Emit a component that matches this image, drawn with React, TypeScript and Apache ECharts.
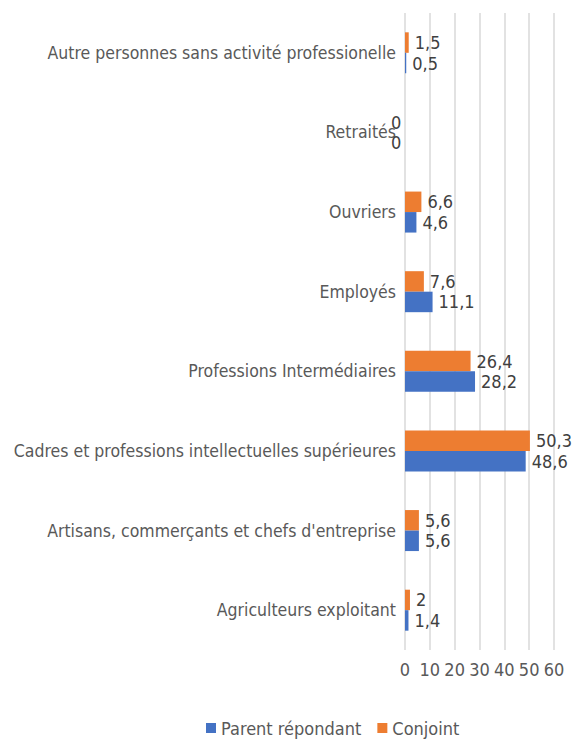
import React, { useEffect, useRef } from "react";
import * as echarts from "echarts";

const categories = [
  "Agriculteurs exploitant",
  "Artisans, commerçants et chefs d'entreprise",
  "Cadres et professions intellectuelles supérieures",
  "Professions Intermédiaires",
  "Employés",
  "Ouvriers",
  "Retraités",
  "Autre personnes sans activité professionelle",
];
const parentValues = [1.4, 5.6, 48.6, 28.2, 11.1, 4.6, 0, 0.5];
const conjointValues = [2, 5.6, 50.3, 26.4, 7.6, 6.6, 0, 1.5];
const xTicks = [0, 10, 20, 30, 40, 50, 60];

const FONT = "'DejaVu Sans Condensed', 'Liberation Sans Narrow', sans-serif";

const fmt = (v: number) => String(v).replace(".", ",");

function toData(vals: number[]) {
  return vals.map((v) =>
    v === 0 ? { value: v, label: { offset: [-20, 0] } } : { value: v }
  );
}

export default function App() {
  const ref = useRef<HTMLDivElement>(null);
  useEffect(() => {
    if (!ref.current) return;
    const chart = echarts.init(ref.current, null, { renderer: "svg" });
    const labelCfg = {
      show: true,
      position: "right",
      distance: 6,
      color: "#404040",
      fontFamily: FONT,
      fontSize: 18,
      formatter: (p: any) => fmt(p.value),
    };
    chart.setOption({
      animation: false,
      textStyle: { fontFamily: FONT },
      grid: { left: 405, right: 25, top: 13, bottom: 90, containLabel: false },
      legend: {
        data: ["Parent répondant", "Conjoint"],
        left: 201,
        top: 714,
        icon: "rect",
        itemWidth: 10,
        itemHeight: 10,
        itemGap: 16,
        textStyle: { color: "#595959", fontSize: 18, fontFamily: FONT },
      },
      xAxis: {
        type: "value",
        min: xTicks[0],
        max: xTicks[xTicks.length - 1],
        interval: 10,
        axisLine: { show: false },
        axisTick: { show: false },
        axisLabel: { color: "#595959", fontSize: 18, fontFamily: FONT, margin: 10 },
        splitLine: { lineStyle: { color: "#d9d9d9", width: 1.5 } },
      },
      yAxis: {
        type: "category",
        data: categories,
        axisLine: { show: false },
        axisTick: { show: false },
        axisLabel: { color: "#595959", fontSize: 17.5, fontFamily: FONT, margin: 9 },
      },
      series: [
        {
          name: "Conjoint",
          type: "bar",
          data: toData(conjointValues),
          barWidth: 20.5,
          barGap: "0%",
          itemStyle: { color: "#ED7D31" },
          label: labelCfg,
        },
        {
          name: "Parent répondant",
          type: "bar",
          data: toData(parentValues),
          barWidth: 20.5,
          barGap: "0%",
          itemStyle: { color: "#4472C4" },
          label: labelCfg,
        },
      ],
    });
    return () => chart.dispose();
  }, []);
  return (
    <div
      ref={ref}
      style={{ position: "fixed", left: 0, top: 0, width: 579, height: 740, background: "#fff" }}
    />
  );
}
